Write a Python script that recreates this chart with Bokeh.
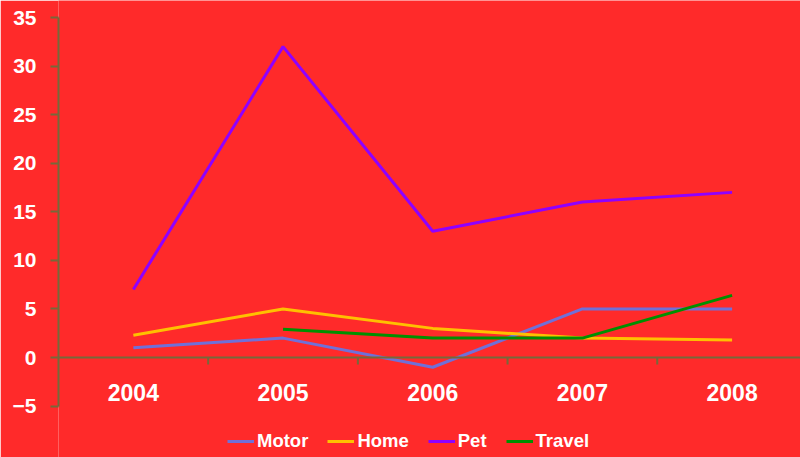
import numpy as np
from bokeh.plotting import figure
from bokeh.models import (FixedTicker, Span, Legend, LegendItem, Range1d)
from bokeh.core.properties import value
from bokeh.embed import file_html
from bokeh.resources import INLINE

# Yearly figures per product line
years = ["2004", "2005", "2006", "2007", "2008"]
motor = [1, 2, -1, 5, 5]
home = [2.3, 5, 3, 2, 1.8]
pet = [7, 32, 13, 16, 17]
travel = [np.nan, 2.9, 2, 2, 6.4]

y_ticks = [-5, 0, 5, 10, 15, 20, 25, 30, 35]

BG = "#FF2A2A"
AXIS = "#76693A"
FONT = "Liberation Sans"

x = list(range(len(years)))

# the frame fills the page height so the legend can sit inside it;
# the value axis itself is bounded to -5..35
p = figure(width=800, height=457, output_backend="svg", toolbar_location=None,
           x_range=Range1d(-0.5, 4.457), y_range=Range1d(-10.29, 36.75),
           min_border_left=58, min_border_right=0, min_border_top=0, min_border_bottom=0)
p.background_fill_color = BG
p.border_fill_color = BG
p.outline_line_color = None
p.xgrid.visible = False
p.ygrid.visible = False
p.xaxis.visible = False

ya = p.yaxis[0]
ya.ticker = FixedTicker(ticks=y_ticks)
ya.bounds = (-5, 35)
ya.axis_line_color = AXIS
ya.axis_line_width = 2
ya.major_tick_line_color = AXIS
ya.major_tick_line_width = 2
ya.major_tick_out = 8
ya.major_tick_in = 0
ya.minor_tick_line_color = None
ya.major_label_standoff = 14
ya.major_label_text_color = "white"
ya.major_label_text_font = FONT
ya.major_label_text_font_style = "bold"
ya.major_label_text_font_size = "21px"

# horizontal category axis sits on the zero line
p.add_layout(Span(location=0, dimension="width", line_color=AXIS, line_width=2))
bounds = [i + 0.5 for i in x]
p.segment(x0=bounds, y0=[0] * len(bounds), x1=bounds, y1=[-0.72] * len(bounds),
          line_color=AXIS, line_width=2)
p.text(x=x, y=[-3.6] * len(x), text=years, text_color="white",
       text_font=value(FONT), text_font_style="bold", text_font_size="23px",
       text_align="center", text_baseline="middle")

series = [("Motor", motor, "#7070D8"), ("Home", home, "#FFC000"),
          ("Pet", pet, "#8F00FF"), ("Travel", travel, "#009000")]
items = []
for name, vals, color in series:
    r = p.line(x, vals, line_color=color, line_width=3)
    items.append(LegendItem(label=name, renderers=[r]))

legend = Legend(items=items, orientation="horizontal", location=(169, 5),
                background_fill_alpha=0, border_line_color=None,
                label_text_color="white", label_text_font=FONT,
                label_text_font_style="bold",
                label_text_font_size="18.5px", glyph_width=27, glyph_height=20,
                label_height=20, label_standoff=3, spacing=19, padding=0, margin=0)
p.add_layout(legend)

open("out.html", "w").write(file_html(p, INLINE))
